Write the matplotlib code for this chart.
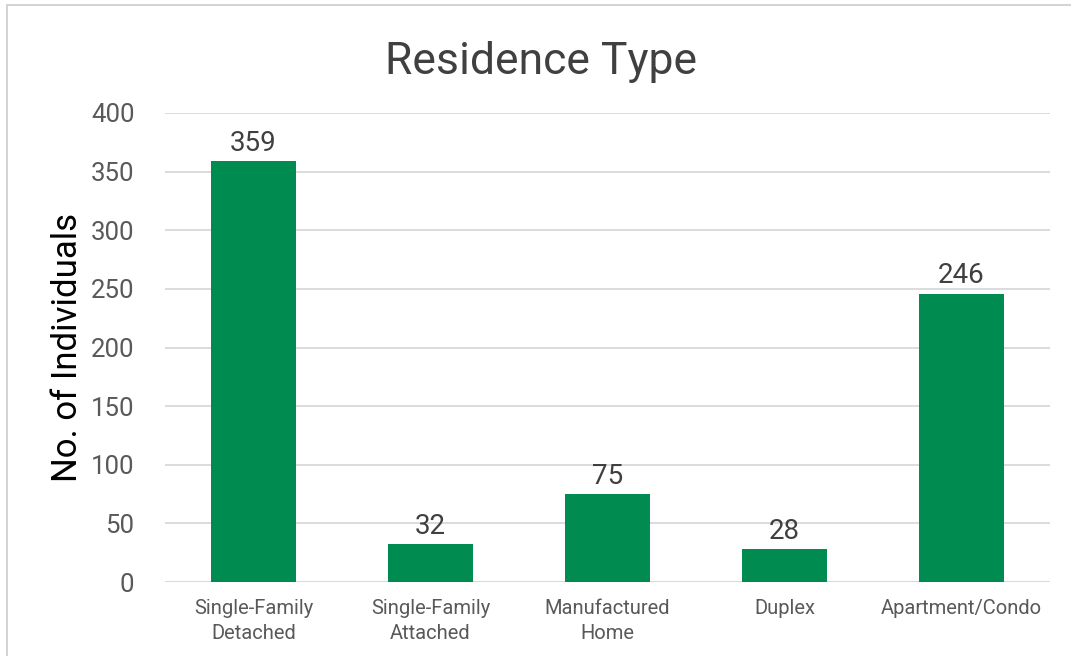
import matplotlib.pyplot as plt
from matplotlib.patches import Rectangle

categories = ["Single-Family\nDetached", "Single-Family\nAttached", "Manufactured\nHome", "Duplex", "Apartment/Condo"]
counts = [359, 32, 75, 28, 246]

GREEN = "#008C50"
GRAY = "#595959"

plt.rcParams['font.family'] = ['Roboto', 'DejaVu Sans']

fig = plt.figure(figsize=(10.71, 6.56), dpi=100)
ax = fig.add_axes([165/1071, 1 - 582/656, (1050-165)/1071, (582-113)/656])

x = range(len(categories))
bars = ax.bar(x, counts, width=0.48, color=GREEN, zorder=3)
for b, v in zip(bars, counts):
    ax.annotate(str(v), (b.get_x() + b.get_width()/2, v), xytext=(0, 3),
                textcoords="offset points", ha="center", va="bottom",
                fontsize=20, color="#404040")

ax.set_xlim(-0.5, len(categories) - 0.5)
ax.set_ylim(0, 400)
ax.set_yticks(range(0, 401, 50))
ax.set_xticks(list(x))
ax.set_xticklabels(categories, fontsize=14.5, color=GRAY, linespacing=1.4)
ax.tick_params(axis='y', labelsize=18.5, labelcolor=GRAY, length=0, pad=22)
ax.tick_params(axis='x', length=0, pad=12)
ax.grid(axis='y', color="#D9D9D9", linewidth=1.3, zorder=0)
for s in ax.spines.values():
    s.set_visible(False)
ax.axhline(0, color="#D9D9D9", linewidth=1.5, zorder=2)

ax.set_ylabel("No. of Individuals", fontsize=25, color="black", labelpad=5)

fig.text(541/1071, 1 - 62/656, "Residence Type", ha="center", va="center",
         fontsize=32, color="#404040")

# chart frame
fig.patches.append(Rectangle((7/1071, -0.1), 1.2, 1 - 5/656 + 0.1, transform=fig.transFigure,
                             fill=False, edgecolor="#D0D0D0", linewidth=1.3))

fig.savefig("out.png", dpi=100)
